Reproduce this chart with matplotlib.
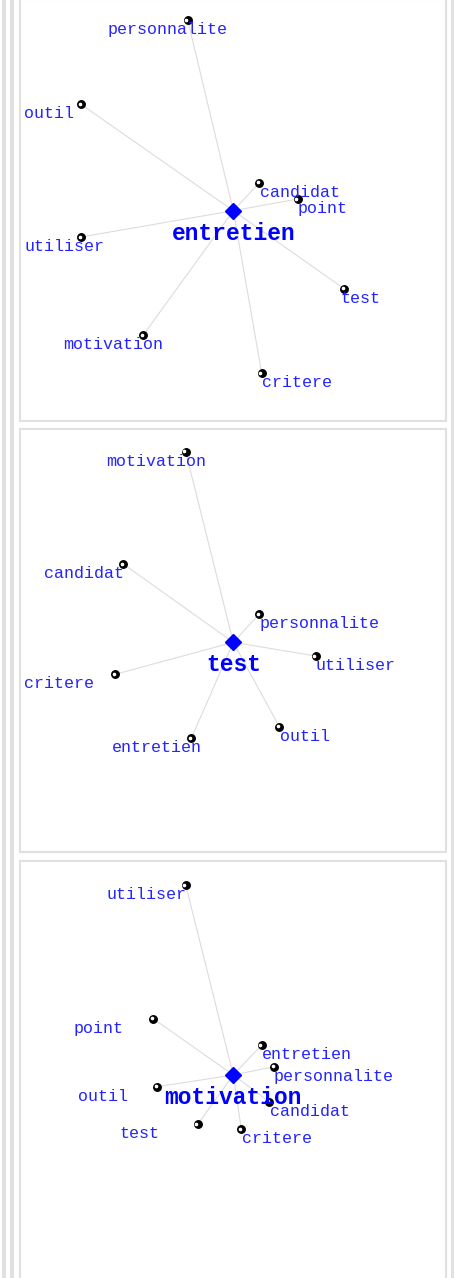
import matplotlib
matplotlib.use("Agg")
import matplotlib.pyplot as plt
from matplotlib.patches import Rectangle

# --- data: one word graph per panel, neighbour positions relative to the centre word (px, y down)
centers = ["entretien", "test", "motivation"]

words_1 = ["personnalite", "outil", "candidat", "point", "utiliser", "test", "motivation", "critere"]
dx_1 = [-45.6, -152.3, 26.0, 64.4, -152.3, 110.7, -90.0, 28.4]
dy_1 = [-190.7, -106.4, -28.0, -11.7, 26.3, 78.0, 124.3, 162.6]

words_2 = ["motivation", "candidat", "personnalite", "utiliser", "critere", "entretien", "outil"]
dx_2 = [-47.6, -110.0, 26.0, 82.4, -118.0, -42.0, 46.0]
dy_2 = [-190.6, -78.3, -28.3, 13.7, 32.0, 96.0, 84.4]

words_3 = ["utiliser", "point", "entretien", "personnalite", "outil", "candidat", "test", "critere"]
dx_3 = [-47.6, -80.0, 28.4, 40.7, -76.0, 36.0, -35.6, 8.0]
dy_3 = [-190.0, -56.3, -30.0, -8.3, 11.7, 26.7, 49.3, 54.0]

graphs = [(words_1, dx_1, dy_1), (words_2, dx_2, dy_2), (words_3, dx_3, dy_3)]

# layout (pixels of the 454x1278 page)
W, H = 454, 1278
center_xy = [(233.3, 210.7), (233.3, 642.3), (233.3, 1075.0)]
# where each label's left edge sits, relative to its dot
label_shift = [
    [-80.4, -57, 0.7, 0, -57, -3.3, -80, 0.3],
    [-80, -79, 0, 0, -91, -79, 0.7],
    [-79.7, -80, 0.6, -0.7, -79, 0.7, -78.7, 1],
]
panel_tops = [-1.4, 429.0, 860.7]
panel_h = 422.7
grey = "#e0e0e0"
blue = "#0000ff"
label_blue = "#2424ff"

fig = plt.figure(figsize=(W / 100, H / 100), dpi=100)
ax = fig.add_axes([0, 0, 1, 1])
ax.set_xlim(0, W)
ax.set_ylim(H, 0)
ax.axis("off")

# page frame bars
for x0, x1 in [(1.5, 5.5), (9.5, 13.5), (451.0, 454.0)]:
    ax.add_patch(Rectangle((x0, -5), x1 - x0, H + 10, facecolor=grey, edgecolor="none"))

for top in panel_tops:
    ax.add_patch(Rectangle((19.5, top), 426.2, panel_h, facecolor="white",
                           edgecolor=grey, linewidth=1.5))

for (words, dx, dy), name, (cx, cy), shifts in zip(graphs, centers, center_xy, label_shift):
    for w, ddx, ddy, s in zip(words, dx, dy, shifts):
        x, y = cx + ddx, cy + ddy
        ax.plot([cx, x], [cy, y], color="#dcdcdc", lw=0.8, zorder=2)
        ax.plot(x, y, "o", color="black", ms=5.4, zorder=4)
        ax.plot(x - 1.3, y - 0.5, "o", color="white", ms=1.6, zorder=5)
        ax.text(x + s, y + 9.5, w, color=label_blue, fontsize=12, family="Liberation Mono",
                ha="left", va="center", zorder=6)
    ax.plot(cx, cy, "D", color=blue, ms=8.5, zorder=6)
    ax.text(cx, cy + 22.3, name, color=blue, fontsize=16.5, fontweight="bold",
            family="Liberation Mono", ha="center", va="center", zorder=7)

fig.savefig("out.png", dpi=100)
